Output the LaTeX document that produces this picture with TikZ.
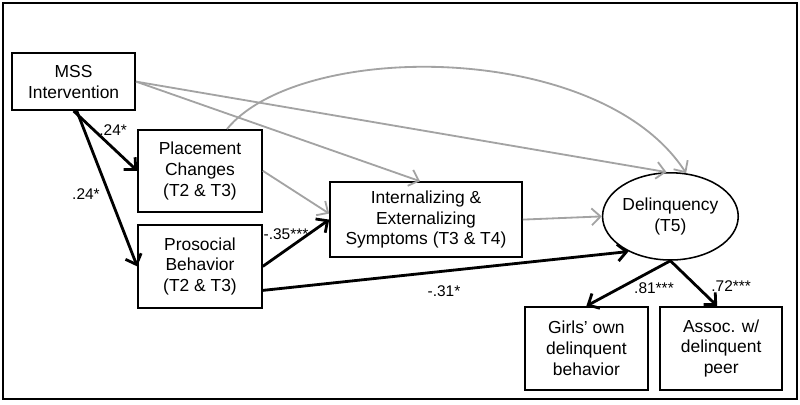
\documentclass[tikz,border=0pt]{standalone}
\usepackage{fontspec}
\setmainfont{Liberation Sans}
\usetikzlibrary{arrows.meta,shapes.geometric}
\begin{document}
\begin{tikzpicture}[
    box/.style={draw,line width=1.1pt,align=center,inner sep=0pt,font=\fontsize{12.4}{14.8}\selectfont},
    sig/.style={line width=2pt,-{Straight Barb[length=2.2mm,width=4.2mm,line width=2pt]}},
    nonsig/.style={line width=1.3pt,draw=black!36,-{Straight Barb[length=2.2mm,width=4.2mm,line width=1.3pt]}},
    coef/.style={font=\fontsize{11}{13}\selectfont}]
    \useasboundingbox (0,0) rectangle (20,10.1);
    \draw[line width=1.3pt] (0.075,0.125) rectangle (19.925,10.025);
    % \node at (10,9.6){};
    \node[box,minimum width=3.08cm,minimum height=1.43cm] (mss) at (1.84,8.06){MSS\\Intervention};
    \node[box,minimum width=3.1cm,minimum height=2.05cm] (plc) at (5,5.83){Placement\\Changes\\(T2 \& T3)};
    \node[box,minimum width=3.1cm,minimum height=2.08cm] (pro) at (5,3.44){Prosocial\\Behavior\\(T2 \& T3)};
    \node[box,minimum width=4.8cm,minimum height=1.88cm] (int) at (10.65,4.61){Internalizing \&\\Externalizing\\Symptoms (T3 \& T4)};
    \node[box,ellipse,minimum width=3.13cm,minimum height=2.18cm] (dlq) at (16.76,4.69){Delinquency\\(T5)};
    \node[box,minimum width=3.08cm,minimum height=2.08cm] (grl) at (14.66,1.39){Girls' own\\delinquent\\behavior};
    \node[box,minimum width=3.05cm,minimum height=2.08cm] (asc) at (18.03,1.39){Assoc. w/\\delinquent\\peer};
    \draw[nonsig] (mss.east) -- ([xshift=-0.15cm]int.north);
    \draw[nonsig] (mss.east) -- (dlq.95);
    \draw[nonsig] ([xshift=0.675cm]plc.north) .. controls (7.5,9.1) and (15,9.1) .. (dlq.70);
    \draw[nonsig] (plc.east) -- ([yshift=0.15cm]int.west);
    \draw[nonsig] (int.east) -- (dlq.west);
    \draw[sig] (mss.south) -- (plc.west);
    \draw[sig] ([xshift=0.08cm]mss.south) -- (pro.west);
    \draw[sig] (pro.east) -- (int.west);
    \draw[sig] ([yshift=-0.6cm]pro.east) -- (dlq.220);
    \draw[sig] (dlq.south) -- (grl.north);
    \draw[sig] (dlq.south) -- ([xshift=-0.1cm]asc.north);
    \node[coef] (l1) at (2.83,6.85){.24*};
    \node[coef] (l2) at (2.15,5.25){.24*};
    \node[coef] (l3) at (7.15,4.25){-.35***};
    \node[coef] (l4) at (11.1,2.83){-.31*};
    \node[coef] (l5) at (16.35,2.9){.81***};
    \node[coef] (l6) at (18.28,2.95){.72***};
\end{tikzpicture}
\end{document}
